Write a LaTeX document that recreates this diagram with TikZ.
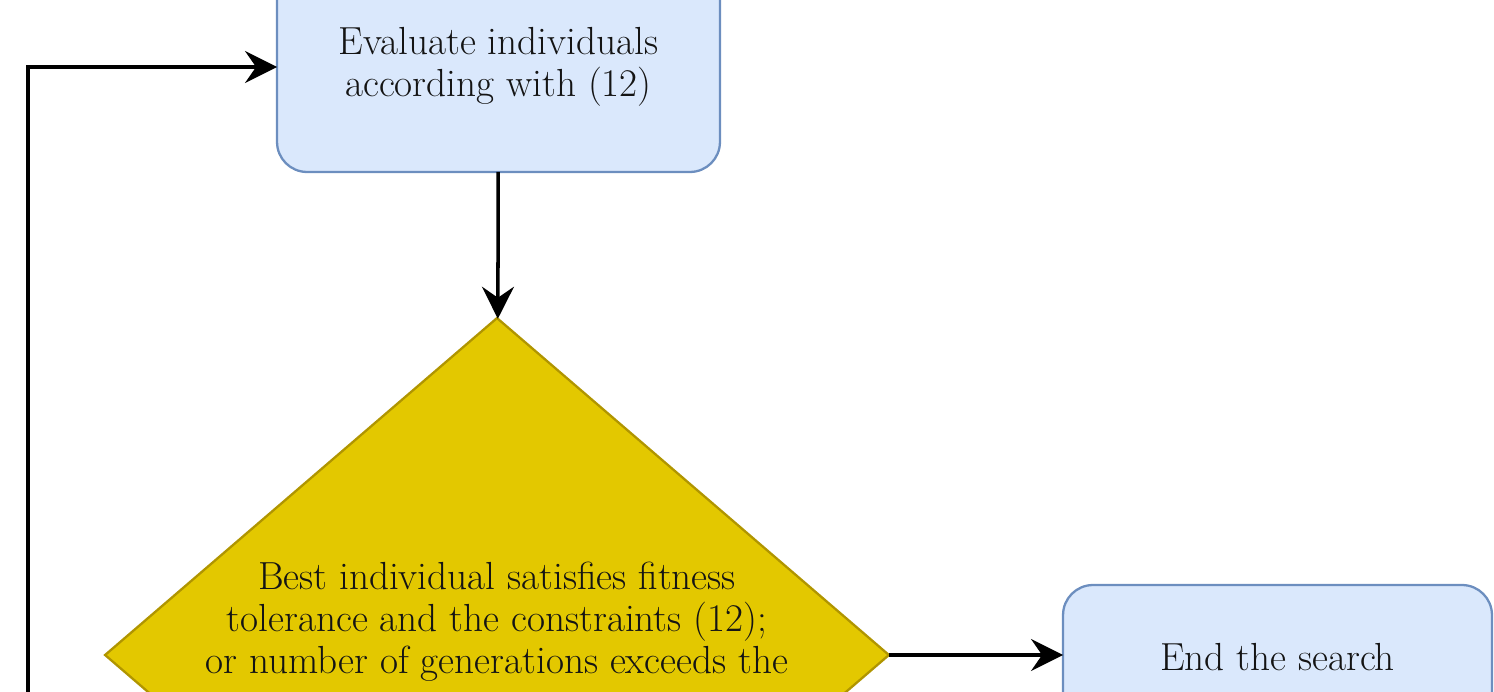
\documentclass[tikz,border=0pt]{standalone}
\usetikzlibrary{shapes.geometric,arrows.meta}
\definecolor{procfill}{HTML}{DAE8FC}
\definecolor{procline}{HTML}{6C8EBF}
\definecolor{decfill}{HTML}{E3C800}
\definecolor{decline}{HTML}{B09500}
\definecolor{txt}{HTML}{141414}

\begin{document}
\begin{tikzpicture}[x=0.02cm,y=-0.02cm,
  every node/.style={font=\fontsize{22.3}{24}\selectfont, text=txt},
  procbox/.style={draw=procline, fill=procfill, rounded corners=0.6cm,
    line width=1.3pt, align=center, outer sep=0pt},
  decbox/.style={diamond, draw=decline, fill=decfill, line width=1.3pt,
    inner sep=0pt, outer sep=0pt, minimum width=15.68cm, minimum height=13.48cm},
  flow/.style={line width=2pt, -{Stealth[length=0.64cm,width=0.64cm,inset=0.22cm]}}]
\useasboundingbox (0,0) rectangle (1494,692);
\clip (0,0) rectangle (1494,692);

\node[procbox, minimum width=8.86cm, minimum height=4.2cm] (eval) at (498.5,67)
  {Evaluate individuals\\according with (12)};
\node[decbox] (check) at (497,655) {};
\node[align=center] (checktext) at (497,622)
  {Best individual satisfies fitness\\tolerance and the constraints (12);\\or number of generations exceeds the};
\node[procbox, minimum width=8.58cm, minimum height=2.88cm] (finish) at (1277.5,657)
  {End the search};
\coordinate (back) at (28,760);

\draw[flow] (eval) -- (check);
\draw[flow] (check.east) -- (check.east -| finish.west);
\draw[flow] (back) |- (eval.west);
\end{tikzpicture}
\end{document}
